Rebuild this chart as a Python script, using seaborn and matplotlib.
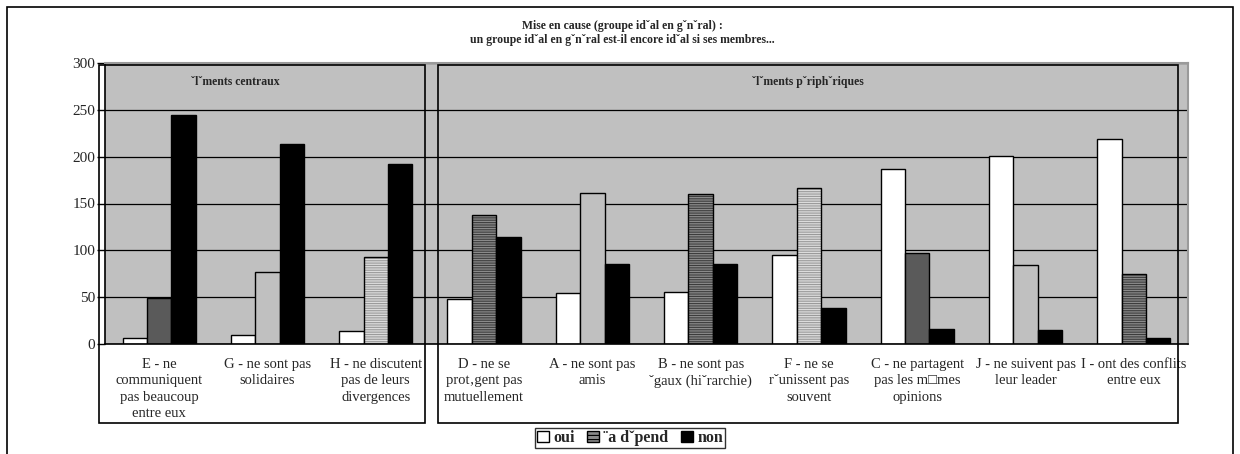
import numpy as np
import pandas as pd
import matplotlib
matplotlib.use("Agg")
import matplotlib.pyplot as plt
import seaborn as sns
from matplotlib.patches import Patch, Rectangle
from matplotlib.colors import to_rgba

# data
categories = ["E", "G", "H", "D", "A", "B", "F", "C", "J", "I"]
tick_labels = [
    "E - ne\ncommuniquent\npas beaucoup\nentre eux",
    "G - ne sont pas\nsolidaires",
    "H - ne discutent\npas de leurs\ndivergences",
    "D - ne se\nprot\u201agent pas\nmutuellement",
    "A - ne sont pas\namis",
    "B - ne sont pas\n\u02c7gaux (hi\u02c7rarchie)",
    "F - ne se\nr\u02c7unissent pas\nsouvent",
    "C - ne partagent\npas les m\u25a1mes\nopinions",
    "J - ne suivent pas\nleur leader",
    "I - ont des conflits\nentre eux",
]
series = ["oui", "\u00a8a d\u02c7pend", "non"]
oui = [6, 10, 14, 48, 54, 55, 95, 187, 201, 219]
ca_depend = [49, 77, 93, 138, 161, 160, 167, 97, 84, 75]
non = [244, 214, 192, 114, 85, 85, 38, 16, 15, 6]
groups = ["\u02c7l\u02c7ments centraux", "\u02c7l\u02c7ments p\u02c7riph\u02c7riques"]

# fill style of the middle series, one per category
mid_styles = ["dark", "light", "light_hatch", "dark_hatch", "light",
              "dark_hatch", "light_hatch", "dark", "light", "dark_hatch"]
styles = {
    "dark": ("#5a5a5a", None, None),
    "light": ("#c0c0c0", None, None),
    "dark_hatch": ("#8a8a8a", "-------", "#3c3c3c"),
    "light_hatch": ("#dcdcdc", "-------", "#9a9a9a"),
}

df = pd.DataFrame({
    "cat": categories * 3,
    "serie": np.repeat(series, len(categories)),
    "value": oui + ca_depend + non,
})

sns.set_style("white")
plt.rcParams["font.family"] = ["Liberation Serif", "DejaVu Serif"]
plt.rcParams["hatch.linewidth"] = 0.8

fig = plt.figure(figsize=(12.4, 4.54), dpi=100)
W, H = 1240, 454
ax = fig.add_axes([105 / W, 1 - 344 / H, (1188 - 105) / W, (344 - 63) / H])
ax.set_facecolor("#c0c0c0")

sns.barplot(data=df, x="cat", y="value", hue="serie", order=categories,
            hue_order=series, palette=["white", "#5a5a5a", "black"],
            width=0.675, edgecolor="black", linewidth=1.0, saturation=1,
            legend=False, ax=ax)


def style_patch(p, key):
    fc, hatch, hc = styles[key]
    p.set_facecolor(fc)
    if hatch:
        p.set_hatch(hatch)
        if hasattr(p, "set_hatchcolor"):
            p.set_hatchcolor(hc)
        else:
            p._hatch_color = to_rgba(hc)


for p, key in zip(ax.containers[1], mid_styles):
    style_patch(p, key)

ax.set_ylim(0, 300)
ax.set_xlim(-0.5, len(categories) - 0.5)
ax.set_yticks(range(0, 301, 50))
ax.yaxis.grid(True, color="black", linewidth=0.9)
ax.set_axisbelow(True)
ax.set_xlabel("")
ax.set_ylabel("")
ax.set_xticks(range(len(categories)))
ax.set_xticklabels(tick_labels, fontsize=10.5, linespacing=1.35)
ax.set_xticks(np.arange(-0.5, len(categories), 1.0), minor=True)
ax.tick_params(axis="x", which="major", length=0, pad=10)
ax.tick_params(axis="x", which="minor", length=8, direction="inout",
               width=1, color="black")
ax.tick_params(axis="y", length=6, direction="out", width=1, color="black",
               labelsize=11, pad=1, left=True)
for s in ["left", "bottom"]:
    ax.spines[s].set_color("black")
    ax.spines[s].set_linewidth(1.2)
for s in ["top", "right"]:
    ax.spines[s].set_color("#9a9a9a")
    ax.spines[s].set_linewidth(1.5)

# group boxes (figure pixels) and label centres
boxes = [(99, 425), (438, 1178)]
label_x = [235, 808]
for (x0, x1), lx, name in zip(boxes, label_x, groups):
    fig.add_artist(Rectangle((x0 / W, 1 - 423 / H), (x1 - x0) / W, (423 - 65) / H,
                             transform=fig.transFigure, fill=False,
                             edgecolor="black", linewidth=1.2, zorder=5))
    fig.text(lx / W, 1 - 82 / H, name, ha="center", va="center",
             fontsize=8.5, fontweight="bold")

fig.text(622 / W, 1 - 33 / H,
         "Mise en cause (groupe id\u02c7al en g\u02c7n\u02c7ral) :\n"
         "un groupe id\u02c7al en g\u02c7n\u02c7ral est-il encore id\u02c7al si ses membres...",
         ha="center", va="center", fontsize=8.5, fontweight="bold", linespacing=1.3)

# outer frame
fig.add_artist(Rectangle((7 / W, -0.05), (1233 - 7) / W, 1.05 - 7 / H,
                         transform=fig.transFigure, fill=False,
                         edgecolor="black", linewidth=1.2))

handles = [
    Patch(facecolor="white", edgecolor="black", linewidth=1),
    Patch(facecolor=styles["dark_hatch"][0], edgecolor="black", linewidth=1,
          hatch="----"),
    Patch(facecolor="black", edgecolor="black", linewidth=1),
]
leg = fig.legend(handles, series, loc="center", bbox_to_anchor=(630 / W, 1 - 438 / H),
                 ncol=3, frameon=True, fancybox=False, edgecolor="black",
                 prop={"weight": "bold", "size": 11.5}, handlelength=0.75,
                 handleheight=0.75, handletextpad=0.25, columnspacing=0.8,
                 borderpad=0.1, borderaxespad=0)
leg.get_frame().set_linewidth(1.0)
if hasattr(leg.legend_handles[1], "set_hatchcolor"):
    leg.legend_handles[1].set_hatchcolor("#3c3c3c")

fig.savefig("out.png", dpi=100)
